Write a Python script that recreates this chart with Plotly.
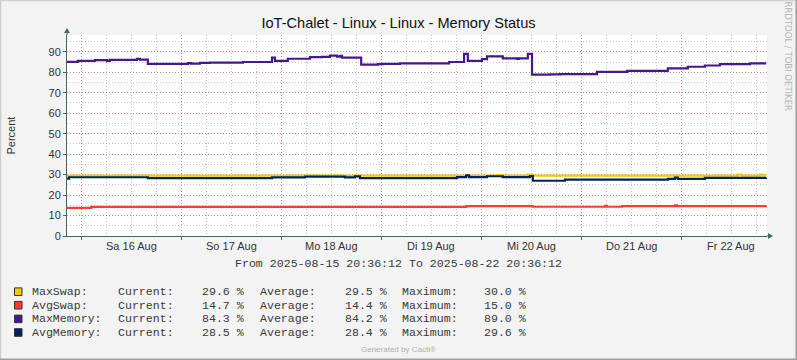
import pandas as pd
import plotly.graph_objects as go

# ---------------- data ----------------
START = "2025-08-15 20:36:12"
END = "2025-08-22 20:36:12"

# hours after START at which each series changes value (step series)
maxswap_h = [0.0, 103.2, 104.6, 110.6, 111.8, 161.0, 162.0, 166.3, 167.0, 167.8]
maxswap_v = [29.5, 29.8, 29.5, 30.0, 29.5, 30.0, 29.5, 30.0, 29.6, 29.6]

avgswap_h = [0.0, 5.8, 95.8, 111.8, 129.1, 129.6, 133.2, 145.9, 146.4, 167.8]
avgswap_v = [13.7, 14.2, 14.6, 14.3, 14.7, 14.3, 14.6, 15.0, 14.6, 14.7]

maxmem_h = [0.0, 2.6, 6.7, 9.6, 10.3, 16.8, 17.5, 19.4, 29.0, 29.8, 31.9, 34.3,
            42.2, 49.2, 49.9, 53.0, 58.3, 61.2, 63.1, 64.8, 65.5, 66.0, 70.6,
            74.6, 75.8, 79.9, 91.7, 95.3, 96.2, 99.6, 100.8, 104.6, 108.0,
            108.5, 110.6, 111.6, 115.9, 118.3, 127.2, 134.4, 144.2, 149.0,
            153.1, 156.7, 163.9, 167.8]
maxmem_v = [85.1, 85.6, 85.9, 85.6, 86.0, 86.5, 86.2, 84.1, 84.5, 84.2, 84.6, 84.7,
            85.0, 87.2, 85.6, 86.6, 87.4, 87.5, 88.1, 87.6, 88.0, 87.1, 83.7,
            84.0, 84.1, 84.3, 85.0, 89.0, 85.6, 86.4, 87.8, 86.8, 86.5,
            86.8, 89.0, 78.8, 79.0, 79.1, 80.2, 80.7, 81.9, 82.7,
            83.3, 84.0, 84.3, 84.3]

avgmem_h = [0.0, 0.5, 19.4, 49.2, 57.1, 66.7, 69.1, 70.3, 93.6, 95.8, 96.5, 100.8,
            104.6, 111.1, 111.8, 119.5, 144.2, 145.9, 146.6, 153.1, 167.8]
avgmem_v = [28.0, 28.7, 28.3, 28.6, 29.0, 28.6, 29.1, 28.3, 28.8, 29.6, 28.8, 29.2,
            28.8, 29.3, 27.0, 27.5, 27.9, 28.5, 27.9, 28.4, 28.5]

series_names = ["MaxSwap", "AvgSwap", "MaxMemory", "AvgMemory"]
series_colors = ["#EACC00", "#FF3B2F", "#46178F", "#00235C"]
current_vals = ["29.6", "14.7", "84.3", "28.5"]
average_vals = ["29.5", "14.4", "84.2", "28.4"]
maximum_vals = ["30.0", "15.0", "89.0", "29.6"]

day_dates = ["2025-08-16", "2025-08-17", "2025-08-18", "2025-08-19",
             "2025-08-20", "2025-08-21", "2025-08-22"]
day_labels = ["Sa 16 Aug", "So 17 Aug", "Mo 18 Aug", "Di 19 Aug",
              "Mi 20 Aug", "Do 21 Aug", "Fr 22 Aug"]
y_ticks = [0, 10, 20, 30, 40, 50, 60, 70, 80, 90]

# ---------------- layout constants ----------------
W, H = 797, 360
PL, PR, PT, PB = 67, 767, 35, 236
AXIS = "#4A6660"
TXT = "#333333"
MONO = "Liberation Mono, Courier New, monospace"
SANS = "Liberation Sans, Arial, sans-serif"


def px(x):
    return (x - PL) / (PR - PL)


def py(y):
    return (PB - y) / (PB - PT)


t0 = pd.Timestamp(START)
fig = go.Figure()
for name, hs, vs, col in [
    ("MaxSwap", maxswap_h, maxswap_v, series_colors[0]),
    ("AvgSwap", avgswap_h, avgswap_v, series_colors[1]),
    ("MaxMemory", maxmem_h, maxmem_v, series_colors[2]),
    ("AvgMemory", avgmem_h, avgmem_v, series_colors[3]),
]:
    xs = [t0 + pd.Timedelta(hours=h) for h in hs]
    fig.add_trace(go.Scatter(x=xs, y=vs, mode="lines", name=name,
                             line=dict(color=col, width=2.2, shape="hv"),
                             showlegend=False, hoverinfo="skip"))

shapes = []
annotations = []


def note(x, y, text, size, family=SANS, color=TXT, xanchor="center",
         yanchor="middle", angle=0):
    annotations.append(dict(x=px(x), y=py(y), xref="paper", yref="paper",
                            xanchor=xanchor, yanchor=yanchor, text=text,
                            textangle=angle, showarrow=False,
                            font=dict(family=family, size=size, color=color)))


# arrows
shapes.append(dict(type="line", xref="paper", yref="paper", x0=px(67), x1=px(67),
                   y0=py(35), y1=py(31), line=dict(color=AXIS, width=1)))
shapes.append(dict(type="path", xref="paper", yref="paper",
                   path=f"M {px(67)},{py(28)} L {px(64)},{py(33)} L {px(70)},{py(33)} Z",
                   fillcolor=AXIS, line=dict(color=AXIS, width=0)))
shapes.append(dict(type="line", xref="paper", yref="paper", x0=px(767), x1=px(770),
                   y0=py(236), y1=py(236), line=dict(color=AXIS, width=1)))
shapes.append(dict(type="path", xref="paper", yref="paper",
                   path=f"M {px(773)},{py(236)} L {px(768)},{py(233)} L {px(768)},{py(239)} Z",
                   fillcolor=AXIS, line=dict(color=AXIS, width=0)))

# outer frame
shapes.append(dict(type="line", xref="paper", yref="paper", x0=px(0), x1=px(797),
                   y0=py(0.5), y1=py(0.5), line=dict(color="#CFCFCF", width=1.5)))
shapes.append(dict(type="line", xref="paper", yref="paper", x0=px(0.5), x1=px(0.5),
                   y0=py(0), y1=py(360), line=dict(color="#CFCFCF", width=1.5)))
shapes.append(dict(type="line", xref="paper", yref="paper", x0=px(0), x1=px(797),
                   y0=py(359.2), y1=py(359.2), line=dict(color="#9E9E9E", width=1.5)))
shapes.append(dict(type="line", xref="paper", yref="paper", x0=px(796.2), x1=px(796.2),
                   y0=py(0), y1=py(360), line=dict(color="#9E9E9E", width=1.5)))

# day labels
for d, lab in zip(day_dates, day_labels):
    annotations.append(dict(x=pd.Timestamp(d) + pd.Timedelta(hours=12), xref="x",
                            y=py(245.8), yref="paper", xanchor="center",
                            yanchor="middle",
                            text=lab, showarrow=False,
                            font=dict(family=SANS, size=11, color=TXT)))

note(10, 135.5, "Percent", 11, angle=-90)
note(788, 56.5, "RRDTOOL / TOBI OETIKER", 8.5, family="DejaVu Sans, sans-serif",
     color="#B5B5B5", angle=90)
note(398.3, 263.3, f"From {START} To {END}", 11.6, family=MONO, color="#3A3A3A")

# legend rows
row_y = [291.7, 305.2, 318.9, 332.5]
for i in range(4):
    yy = row_y[i]
    shapes.append(dict(type="rect", xref="paper", yref="paper",
                       x0=px(14.5), x1=px(22), y0=py(yy - 3.8), y1=py(yy + 3.8),
                       fillcolor=series_colors[i], line=dict(color="#333333", width=1)))
    cols = [(29.7, series_names[i] + ":"), (116, "Current:"),
            (200, current_vals[i] + " %"), (258.3, "Average:"),
            (343.3, average_vals[i] + " %"), (400, "Maximum:"),
            (482.5, maximum_vals[i] + " %")]
    for xx, tx in cols:
        note(xx, yy, tx, 11.6, family=MONO, color="#3A3A3A", xanchor="left")

note(398.5, 349, "Generated by Cacti®", 8, color="#B0B0B0")

midnights = [pd.Timestamp(d) for d in day_dates]

fig.update_layout(
    width=W, height=H,
    paper_bgcolor="#F3F3F3", plot_bgcolor="#FFFFFF",
    margin=dict(l=PL, r=W - PR, t=PT, b=H - PB, pad=0),
    title=dict(text="IoT-Chalet - Linux - Linux - Memory Status",
               x=0.5, xref="container", xanchor="center",
               y=1 - 23 / H, yref="container", yanchor="middle",
               font=dict(family=SANS, size=14.6, color="#111111")),
    xaxis=dict(type="date", range=[t0, pd.Timestamp(END)],
               tickmode="array", tickvals=midnights, showticklabels=False,
               ticks="outside", ticklen=3, tickcolor=AXIS,
               showgrid=True, gridcolor="rgba(225,70,70,0.45)", griddash="1px,2px",
               gridwidth=1,
               minor=dict(dtick=6 * 3600 * 1000, tick0="2025-08-16",
                          showgrid=True, gridcolor="rgba(140,140,140,0.45)",
                          griddash="1px,2px", ticks=""),
               showline=True, linecolor=AXIS, linewidth=1, zeroline=False,
               fixedrange=True),
    yaxis=dict(range=[0, 98.2], tickmode="array", tickvals=y_ticks,
               ticks="outside", ticklen=3, tickcolor=AXIS,
               tickfont=dict(family=SANS, size=11, color=TXT),
               showgrid=True, gridcolor="rgba(225,70,70,0.45)", griddash="1px,2px",
               minor=dict(dtick=5, showgrid=True, gridcolor="rgba(140,140,140,0.45)",
                          griddash="1px,2px", ticks=""),
               showline=True, linecolor=AXIS, linewidth=1, zeroline=False,
               fixedrange=True),
    shapes=shapes, annotations=annotations,
    showlegend=False,
)

fig.write_html("out.html", config={"displayModeBar": False},
               post_script="document.body.style.margin='0';")
